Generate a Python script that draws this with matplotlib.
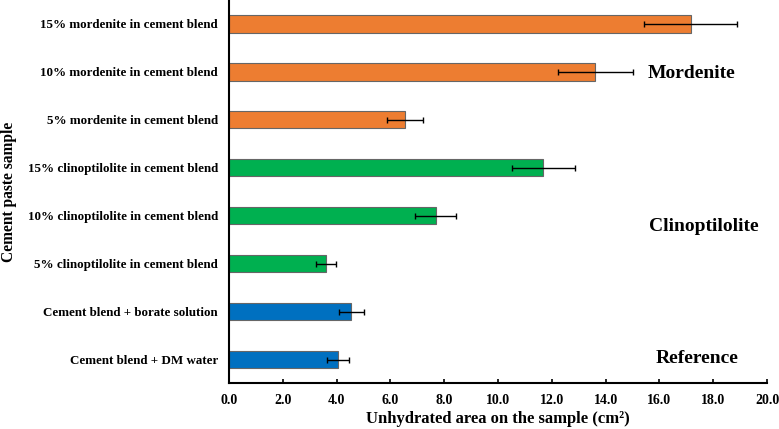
import matplotlib
matplotlib.use("Agg")
import matplotlib.pyplot as plt

categories = [
    "Cement blend + DM water",
    "Cement blend + borate solution",
    "5% clinoptilolite in cement blend",
    "10% clinoptilolite in cement blend",
    "15% clinoptilolite in cement blend",
    "5% mordenite in cement blend",
    "10% mordenite in cement blend",
    "15% mordenite in cement blend",
]
values = [4.06, 4.55, 3.59, 7.68, 11.68, 6.55, 13.62, 17.16]
errors = [0.41, 0.46, 0.37, 0.77, 1.17, 0.66, 1.38, 1.72]
groups = ["Reference", "Reference", "Clinoptilolite", "Clinoptilolite", "Clinoptilolite",
          "Mordenite", "Mordenite", "Mordenite"]
group_colors = {"Reference": "#0070C0", "Clinoptilolite": "#00B050", "Mordenite": "#ED7D31"}
xticks = [0, 2, 4, 6, 8, 10, 12, 14, 16, 18, 20]

plt.rcParams['font.family'] = ['Liberation Serif', 'DejaVu Serif']
plt.rcParams['font.weight'] = 'bold'

fig = plt.figure(figsize=(7.79, 4.29), dpi=100)
ax = fig.add_axes([229/779, (429-383)/429, (767-229)/779, 383/429])

y = list(range(len(categories)))
colors = [group_colors[g] for g in groups]
ax.barh(y, values, height=0.36, color=colors, edgecolor="#666666", linewidth=0.8)
ax.errorbar(values, y, xerr=errors, fmt='none', ecolor='black', elinewidth=1.0,
            capsize=2, capthick=1.0)

ax.set_ylim(-0.49, 7.5)
ax.set_xlim(0, 20)
ax.set_yticks(y)
ax.set_yticklabels(categories, fontsize=9.4, fontweight='bold')
ax.set_xticks(xticks)
ax.set_xticklabels([f"{v:.1f}" for v in xticks], fontsize=10, fontweight='bold')
ax.tick_params(axis='y', length=0, pad=8)
ax.tick_params(axis='x', direction='in', length=3, width=1.2, pad=8)

for s in ['top', 'right']:
    ax.spines[s].set_visible(False)
for s in ['left', 'bottom']:
    ax.spines[s].set_linewidth(1.5)

ax.set_xlabel("Unhydrated area on the sample (cm\u00b2)", fontsize=12,
              fontweight='bold', labelpad=3)
ax.set_ylabel("Cement paste sample", fontsize=11.2, fontweight='bold')
ax.yaxis.set_label_coords(-0.394, 0.5)

# group labels
group_label_pos = {"Mordenite": (17.2, 5.97), "Clinoptilolite": (17.64, 2.78), "Reference": (17.4, 0.03)}
for g, (xx, yy) in group_label_pos.items():
    ax.text(xx, yy, g, fontsize=14, fontweight='bold', ha='center', va='center')

fig.savefig("out.png", dpi=100)
